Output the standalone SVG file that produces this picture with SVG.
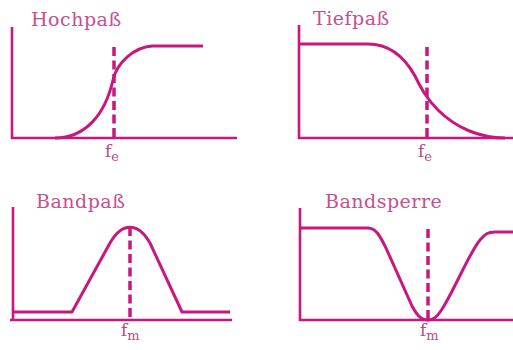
<svg xmlns="http://www.w3.org/2000/svg" width="513" height="350" viewBox="0 0 513 350">
<style>
.ax{fill:none;stroke:#c8177f;stroke-width:2.6;stroke-linecap:butt}
.cv{fill:none;stroke:#c8177f;stroke-width:3;stroke-linejoin:round}
.ds{fill:none;stroke:#c8177f;stroke-width:3.5;stroke-dasharray:9 4.5}
.t{font-family:"DejaVu Serif","Liberation Serif",serif;font-size:19px;letter-spacing:0.5px;fill:#c4508e}
.l{font-family:"DejaVu Serif","Liberation Serif",serif;font-size:17px;fill:#b84a85}
.s{font-size:13px}
</style>
<rect width="513" height="350" fill="#ffffff"/>
<g id="hochpass">
<text class="t" x="31" y="26">Hochpaß</text>
<path class="ax" d="M12,27 V138 H237"/>
<path class="cv" d="M55,138 C85,138 105,115 113,80 C117,62 135,47 152,46 L203,46"/>
<path class="ds" d="M114,47 V138"/>
<text class="l" x="105" y="157">f<tspan class="s" dy="4">e</tspan></text>
</g>
<g id="tiefpass">
<text class="t" x="313" y="25">Tiefpaß</text>
<path class="ax" d="M299,25 V138 H513"/>
<path class="cv" d="M299,44 L368,44 C390,44 405,58 415,76 C421,88 426,98 438,110 C456,128 480,138 505,138"/>
<path class="ds" d="M427,47 V138"/>
<text class="l" x="418" y="157">f<tspan class="s" dy="4">e</tspan></text>
</g>
<g id="bandpass">
<text class="t" x="36" y="208">Bandpaß</text>
<path class="ax" d="M13,207 V320 M10,320 H232"/>
<path class="cv" d="M13,312 L72,312 L110,243 C122,222 138,222 150,243 L182,312 L230,312"/>
<path class="ds" d="M130,227 V320"/>
<text class="l" x="121" y="336">f<tspan class="s" dy="4">m</tspan></text>
</g>
<g id="bandsperre">
<text class="t" x="325" y="208">Bandsperre</text>
<path class="ax" d="M300,208 V320 H513"/>
<path class="cv" d="M300,228 L368,228 C376,228 380,236 386,248 L412,306 C418,317 422,320 428,320 C434,320 438,316 444,306 C458,282 470,252 480,240 C485,234 488,232 495,232 L513,232"/>
<path class="ds" d="M428,229 V320"/>
<text class="l" x="420" y="336">f<tspan class="s" dy="4">m</tspan></text>
</g>
<g id="connectors"/>
</svg>
